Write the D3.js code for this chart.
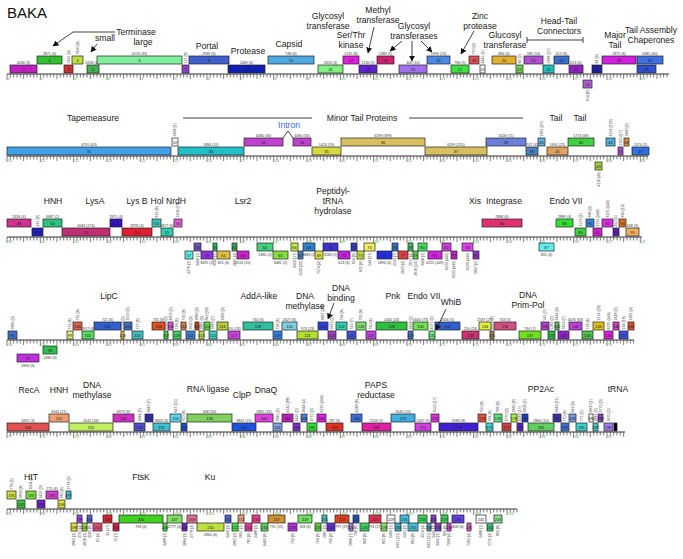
<!DOCTYPE html>
<html><head><meta charset="utf-8">
<script src="https://cdn.jsdelivr.net/npm/d3@7"></script>
<style>body{margin:0;background:#fff}svg text{font-family:"Liberation Sans",Arial,sans-serif}</style>
</head><body><svg id="c" width="683" height="559"></svg>
<script>
const title = "BAKA";
// bp length of each map row
const rowLengths = [19860, 19230, 19050, 18810, 18540, 15300];
// genes: [name, start bp (within row), end bp, track (+2/+1 forward, -1/-2 reverse), pham label]
const row1Genes = [
 ["1",90,900,1,"4246 (3)"],["2",900,1650,2,"2871 (6)"],["3",1710,1980,1,"7495 (4)"],["4",1950,2280,2,"7600 (6)"],
 ["5",2400,2760,1,"6266 (11)"],["6",2700,5250,2,"4153 (35)"],["7",5250,5460,1,"127 (8)"],["8",5460,6660,2,"2939 (6)"],
 ["9",6630,7740,1,"1469 (6)"],["10",7830,9210,2,"748 (6)"],["11",9330,10080,1,"2453 (3)"],["12",10080,10560,2,"2135 (8)"],
 ["13",10560,11100,1,"2136 (5)"],["14",11100,11610,2,"1389 (5)"],["15",11760,12600,1,"406 (10)"],["16",12600,13290,2,"1999 (13)"],
 ["17",13320,13860,1,"786 (5)"],["18",13860,14160,2,"770 (4)"],["19",14190,14340,1,"4445 (1)"],["20",14550,15270,2,"884 (6)"],
 ["21",15270,15480,1,"64 (2)"],["22",15510,16080,2,"339 (14)"],["23",16080,16410,1,"1686 (27)"],["24",16410,16860,2,"612 (6)"],
 ["25",16860,17280,1,"613 (6)"],["26",17280,17550,-1,"614 (6)"],["27",17550,17850,1,"64 (9)"],["28",17850,18870,2,"2872 (6)"],
 ["29",18900,19470,1,""],["30",18900,19680,2,"6381 (60)"]
];
const row1Colors = ["#c020c0","#30c030","#d03030","#c0e040","#40b050","#80f0a0","#9040c0","#4060d0","#1020b0","#50a8e0",
 "#80f080","#e020e0","#6020d0","#d02070","#a070f0","#4a8ae0","#40e040","#e05050","#ffffff","#e0b030",
 "#70d050","#b050d0","#20c0c0","#3a70d0","#9020c0","#b060d0","#2020a0","#d020e0","#3050d0","#4070e0"];
const row2Genes = [
 ["31",0,4920,1,"4791 (63)"],["32",4950,5130,2,"2486 (1)"],["33",5130,7110,1,"1884 (55)"],["34",7110,8280,2,"4080 (30)"],
 ["34",8580,9120,2,"4080 (30)"],["35",9150,10020,1,"1424 (59)"],["36",10020,12540,2,"6199 (399)"],["37",12540,14400,1,"6199 (255)"],
 ["38",14370,15570,2,"1628 (71)"],["39",15570,15930,1,"4747 (45)"],["40",15930,16140,2,"1661 (27)"],["41",16200,16830,1,"1692 (25)"],
 ["42",16830,17610,2,"1774 (69)"],["43",17640,17850,-1,"4116 (45)"],["44",17970,18240,2,"1914 (102)"],["45",18330,18480,1,"5250 (17)"],
 ["46",18510,18660,2,"2480 (2)"],["47",18750,19260,1,"2474 (5)"]
];
const row2Colors = ["#40a0e8","#ffffff","#20c0c8","#c040d0","#c040d0","#d8d840","#d8c060","#d8c060","#6a80d8","#4a80c0",
 "#60b0e0","#e0a060","#40d040","#a0d040","#50b0e0","#b050d0","#e09040","#3070e0"];
const row3Genes = [
 ["48",0,720,2,"2458 (4)"],["49",750,1080,1,"441 (6)"],["50",1080,1650,2,"3487 (2)"],["51",1650,3090,1,"4084 (274)"],
 ["52",3090,3450,2,"2875 (4)"],["53",3450,4350,1,"2878 (4)"],["54",4350,4620,2,"619 (6)"],["55",4620,4980,1,"2877 (6)"],
 ["56",5010,5250,2,"1904 (75)"],["57",5340,5580,-2,"4276 (2)"],["58",5610,5820,-1,"3496 (2)"],["59",5820,6180,-2,"3495 (2)"],
 ["60",6180,6300,-1,"3500 (2)"],["61",6300,6690,-2,"821 (6)"],["62",6750,6900,-1,"2661 (3)"],["63",6900,7260,-2,"2616 (10)"],
 ["64",7500,7980,-1,"2480 (2)"],["65",7980,8430,-2,"3481 (2)"],["66",8520,8730,-1,"3950 (17)"],["67",8730,8880,-2,"1530 (20)"],
 ["68",8880,9240,-1,"3883 (2)"],["69",9240,9480,-2,"7574 (4)"],["70",9480,9930,-1,"3583 (2)"],["71",9930,10290,-2,"623 (6)"],
 ["72",10320,10500,-1,"624 (6)"],["73",10500,10710,-2,"625 (6)"],["74",10710,11040,-1,"544 (27)"],["75",11100,11550,-2,"1894 (4)"],
 ["76",11550,11730,-1,"2593 (7)"],["77",11730,12030,-2,"2623 (4)"],["78",12030,12180,-1,"2617 (4)"],["79",12180,12330,-2,"2616 (10)"],
 ["80",12330,12600,-1,"3496 (2)"],["81",12630,13050,-2,"6225 (449)"],["82",13050,13320,-1,"6225 (449)"],["83",13320,13500,-2,"6225 (449)"],
 ["84",13650,13980,-1,"6220 (449)"],["85",13980,14160,-2,"2897 (5)"],["86",14250,15450,2,"2888 (6)"],["87",15960,16410,-1,"831 (4)"],
 ["88",16470,16980,2,"2889 (4)"],["89",17040,17370,1,"1573 (1)"],["90",17370,17610,2,"686 (4)"],["91",17580,17850,1,"6225 (449)"],
 ["92",17850,18180,2,"6225 (449)"],["93",18180,18360,1,"450 (5)"],["94",18360,18570,2,"639 (10)"],["95",18570,18960,1,"638 (3)"]
];
const row3Colors = ["#d03090","#2020c0","#30c080","#c03070","#3010c0","#e02030","#40c0b0","#30d0b0","#e060e0","#60e8e8",
 "#7050c0","#9030e0","#20c060","#e0c040","#40a060","#d020d0","#40d080","#80e040","#c0f040","#4080c0",
 "#3080d0","#e0e040","#4030d0","#c020e0","#3040c0","#c0e040","#f0f060","#2030e0","#3070c0","#e04040",
 "#30c060","#60d040","#40e060","#d020e0","#d040e0","#c020d0","#e040f0","#9030d0","#e03070","#60f0f0",
 "#30e030","#40d040","#3a80e0","#d020d0","#d830e0","#6020c0","#e07020","#f0b060"];
const row4Genes = [
 ["96",30,300,1,"2885 (3)"],["97",300,960,-2,"2896 (6)"],["98",1080,1500,-1,"1486 (6)"],["99",1800,1980,1,"719 (6)"],
 ["100",1980,2250,2,"735 (8)"],["101",2250,2610,1,"2917 (6)"],["102",2610,3420,2,"721 (6)"],["103",3420,3510,1,"5018 (5)"],
 ["104",3510,3750,2,"2919 (5)"],["105",3750,4080,1,"727 (6)"],["106",4350,4740,2,"735 (6)"],["107",4710,4830,1,"2890 (3)"],
 ["108",4830,4980,2,"4803 (5)"],["109",4980,5220,1,"726 (6)"],["110",5220,5370,2,"729 (6)"],["111",5370,5640,1,"2620 (3)"],
 ["112",5640,5760,2,"2880 (3)"],["113",5760,5910,1,"2881 (3)"],["114",5910,6090,2,"842 (20)"],["115",6060,6300,1,"2882 (7)"],
 ["116",6300,6630,2,"2883 (3)"],["117",6630,6990,1,"620 (26)"],["118",7080,7980,2,"734 (6)"],["119",7980,8250,1,"736 (6)"],
 ["120",8250,8700,2,"2627 (6)"],["121",8700,9330,1,"973 (23)"],["122",9330,9630,2,"3667 (46)"],["123",9630,9870,1,"5813 (20)"],
 ["124",9870,10200,2,"739 (6)"],["125",10200,10470,1,"741 (7)"],["126",10470,10770,2,"735 (6)"],["127",10770,11070,1,"740 (6)"],
 ["128",11070,12000,2,"1440 (24)"],["129",12030,12180,1,"2618 (3)"],["130",12180,12630,2,"1600 (73)"],["131",12660,12840,1,"4071 (5)"],
 ["132",12840,13590,2,"2656 (5)"],["133",13650,14160,1,"250 (24)"],["134",14160,14520,2,"2587 (27)"],["135",14490,14610,1,"3657 (5)"],
 ["136",14610,15270,2,"743 (5)"],["137",15360,16020,1,"744 (7)"],["138",16020,16260,2,"545 (7)"],["139",16230,16440,1,"5262 (2)"],
 ["140",16440,16560,2,"3444 (3)"],["141",16530,16860,1,"7453 (7)"],["142",16860,17250,2,"4076 (63)"],["143",17250,17580,1,"716 (6)"],
 ["144",17580,17910,2,"2514 (20)"],["145",17910,18180,1,"6225 (449)"],["146",18180,18360,2,"2448 (2)"],["147",18360,18630,1,"234 (16)"],
 ["148",18630,18810,2,"3281 (4)"]
];
const row4Colors = ["#4070d0","#c030e0","#30c050","#e0f080","#e06050","#50e060","#3060d0","#e0c030","#4070c0","#40c0c0",
 "#e05020","#50d040","#e050e0","#40d060","#d08040","#4080d0","#c04020","#b0e040","#50e040","#40d0c0",
 "#c0d040","#d040e0","#30c0a0","#3080e0","#80d0e0","#b0e030","#3040e0","#a040c0","#30d0b0","#4050e0",
 "#80e070","#c040e0","#30c040","#4070c0","#70e050","#60f080","#3060d0","#d03070","#e0f040","#a08050",
 "#d05080","#70e020","#b040d0","#30c040","#60c060","#9020d0","#c040e0","#50c050","#e0c020","#e020e0",
 "#d040c0","#4050e0","#e05030"];
const row5Genes = [
 ["149",0,1260,1,"3492 (3)"],["150",1260,1860,2,"6944 (21)"],["151",1860,3180,1,"3541 (34)"],["152",3180,3810,2,"6973 (6)"],
 ["153",3810,4140,1,"2644 (5)"],["154",4140,4380,2,"3842 (7)"],["155",4380,4890,1,"3843 (4)"],["156",4890,5220,2,"647 (15)"],
 ["157",5220,5400,1,"750 (6)"],["158",5400,6750,2,"348 (34)"],["159",6750,7470,1,"3842 (21)"],["160",7440,7980,2,"2865 (16)"],
 ["161",7980,8250,1,"2645 (5)"],["162",8250,8580,2,"4145 (86)"],["163",8580,8790,1,"3495 (2)"],["164",8820,9000,2,"3844 (4)"],
 ["165",9000,9300,1,"3772 (3)"],["166",9300,9570,2,"6225 (449)"],["167",9570,10080,1,"787 (6)"],["168",10320,10650,2,"4248 (6)"],
 ["169",10650,11520,1,"1556 (5)"],["170",11520,12240,2,"2040 (20)"],["171",12240,12720,1,"2047 (5)"],["172",12720,12960,2,"3552 (17)"],
 ["173",12960,14130,1,"3583 (8)"],["174",14130,14370,2,"750 (6)"],["175",14370,14580,1,"764 (6)"],["176",14610,14850,2,"766 (6)"],
 ["177",14850,15120,1,"3770 (3)"],["178",15120,15300,2,"2665 (6)"],["179",15300,15480,1,"3583 (17)"],["180",15450,15630,2,"2856 (5)"],
 ["181",15630,16410,1,"2866 (10)"],["182",16380,16620,2,"3643 (11)"],["183",16620,16860,1,"770 (6)"],["184",16860,17070,2,"643 (4)"],
 ["185",17070,17400,1,"771 (5)"],["186",17460,17580,2,"6600 (1)"],["187",17580,17730,1,"2867 (5)"],["188",17730,17880,2,"3772 (3)"],
 ["189",17910,18180,1,"3470 (2)"],["",18210,18300,1,""]
];
const row5Colors = ["#e05050","#f0a070","#c0f060","#d030c0","#5050d0","#3030b0","#40c0d0","#60d8f0","#2050c0","#80d060",
 "#2050e0","#e040e0","#80a0e0","#c020c0","#8030d0","#5080d0","#30e030","#e020e0","#e03020","#4070e0",
 "#e020a0","#40b0e0","#d040e0","#e030e0","#4020d0","#e05040","#40d0d0","#60e080","#d04040","#b0f040",
 "#6020c0","#2040c0","#60d060","#4030b0","#4070e0","#70a0e0","#40d0d0","#ffffff","#40d0c0","#9040c0",
 "#a080f0","#000000"];
const row6Genes = [
 ["191",0,270,2,"776 (5)"],["192",300,540,1,"2858 (6)"],["193",570,870,2,"3004 (11)"],["194",900,1140,1,"3437 (3)"],
 ["195",1170,1530,2,"775 (6)"],["196",1530,1740,1,"780 (6)"],["197",1770,1920,2,"3776 (5)"],["198",1920,2100,-2,"3862 (3)"],
 ["199",2100,2250,-1,"3791 (4)"],["200",2250,2400,-2,"4818 (3)"],["201",2400,2550,-1,"3583 (6)"],["202",2580,2850,-2,"61 (4)"],
 ["203",2880,3150,-1,"35 (17)"],["204",3180,3360,-2,"12 (7)"],["205",3360,4680,-1,"794 (6)"],["206",4680,4800,-2,"3488 (2)"],
 ["207",4800,5250,-1,"2777 (4)"],["208",5250,5400,-2,"3864 (3)"],["209",5400,5700,-1,"2778 (3)"],["210",5700,6510,-2,"2860 (6)"],
 ["211",6540,6720,-1,"3490 (3)"],["212",6750,6930,-2,"2862 (3)"],["213",6930,7110,-1,"2857 (2)"],["214",7140,7350,-2,"781 (6)"],
 ["215",7350,7590,-1,"2488 (3)"],["216",7620,7830,-2,"6460 (6)"],["217",7830,8340,-1,"791 (15)"],["218",8430,8700,-2,"792 (6)"],
 ["219",8730,9150,-1,"183 (6)"],["220",9240,9420,-2,"794 (6)"],["221",9450,9600,-1,"2867 (3)"],["222",9600,9840,-2,"795 (6)"],
 ["223",9840,10260,-1,"797 (29)"],["224",10260,10380,-2,"2866 (7)"],["225",10380,10560,-1,"798 (6)"],["226",10590,10860,-2,"800 (6)"],
 ["227",10860,11220,-1,"793 (27)"],["228",11220,11400,-2,"801 (6)"],["229",11400,11640,-1,"2480 (1)"],["230",11640,11820,-2,"6451 (11)"],
 ["231",11790,12060,-1,"2491 (3)"],["232",12030,12330,-2,"803 (6)"],["233",12330,12600,-1,"3574 (4)"],["234",12600,12720,-2,"6451 (11)"],
 ["235",12720,12870,-1,"3495 (2)"],["236",12840,13020,-2,"3492 (2)"],["237",13020,13230,-1,"809 (6)"],["238",13200,13320,-2,"7066 (4)"],
 ["239",13350,13710,-1,"808 (6)"],["240",13800,13920,-2,"7265 (4)"],["241",14070,14370,-1,"2488 (1)"],["242",14400,14580,-2,"2715 (3)"],
 ["243",14610,14850,-1,"809 (6)"]
];
const row6Colors = ["#d0e040","#40c040","#80e040","#7020d0","#d040d0","#e0e040","#40c0c0","#e0e040","#a040e0","#a0d040",
 "#6060d0","#e05070","#e02030","#d02040","#40d020","#40e040","#80e060","#7020d0","#e07090","#c0e040",
 "#5060d0","#40e040","#f0a080","#e040a0","#e04090","#60d060","#d09030","#b030e0","#70e060","#60d040",
 "#40c0c0","#6030d0","#e04020","#a080e0","#2050c0","#40d060","#e03050","#90e060","#ffffff","#40b0c0",
 "#40c0e0","#40c0d0","#40d060","#50a0c0","#8040c0","#8040c0","#40d060","#e040e0","#6040e0","#d060d0",
 "#ffffff","#40c070","#90e090"];
// annotations: [row, center bp, lines]
const annotations = [
 [0,3870,["Terminase"]],[0,2940,["small"]],[0,4080,["large"]],[0,6000,["Portal"]],[0,7230,["Protease"]],[0,8460,["Capsid"]],
 [0,9630,["Glycosyl","transferase"]],[0,10320,["Ser/Thr","kinase"]],[0,11130,["Methyl","transferase"]],
 [0,12210,["Glycosyl","transferases"]],[0,14190,["Zinc","protease"]],[0,14940,["Glucosyl","transferase"]],
 [0,16560,["Head-Tail","Connectors"]],[0,18240,["Major","Tail"]],[0,19320,["Tail Assembly","Chaperones"]],
 [1,2580,["Tapemeasure"]],[1,10650,["Minor Tail Proteins"]],[1,8460,["Intron"]],[1,16470,["Tail"]],[1,17190,["Tail"]],
 [2,1380,["HNH"]],[2,2640,["LysA"]],[2,3900,["Lys B"]],[2,4500,["Hol"]],[2,5070,["NrdH"]],[2,7080,["Lsr2"]],
 [2,9780,["Peptidyl-","tRNA","hydrolase"]],[2,14040,["Xis"]],[2,14910,["Integrase"]],[2,16770,["Endo VII"]],
 [3,3060,["LipC"]],[3,7560,["AddA-like"]],[3,8940,["DNA","methylase"]],[3,10020,["DNA","binding"]],[3,11580,["Pnk"]],
 [3,12510,["Endo VII"]],[3,13320,["WhiB"]],[3,15630,["DNA","Prim-Pol"]],
 [4,660,["RecA"]],[4,1560,["HNH"]],[4,2550,["DNA","methylase"]],[4,6030,["RNA ligase"]],[4,7050,["ClpP"]],[4,7770,["DnaQ"]],
 [4,11070,["PAPS","reductase"]],[4,16020,["PP2Ac"]],[4,18330,["tRNA"]],
 [5,720,["HIT"]],[5,4020,["FtsK"]],[5,6090,["Ku"]]
];
// ---------------- layout ----------------
const rulerY = [74,156,237,340,432,509];
const annDy = [-39,-33,-29,-25,-20,-27,-55,-36,-61,-45,-55,-36,-50,-36,-41,
 -35,-35,-28,-35,-35,
 -33,-33,-33,-33,-33,-33,-43,-33,-33,-33,
 -41,-41,-41,-49,-41,-41,-35,-42,
 -39,-39,-44,-40,-34,-39,-44,-40,-40,
 -29,-29,-29];
// connector lines: [row, bp1, dy1, bp2, dy2, arrow]
const connectors = [
 [0,3240,-42,1980,-42,0],[0,1980,-42,1380,-28,1],[0,2700,-30,2520,-22,1],[0,11010,-47,10830,-21,1],
 [0,11850,-33,11490,-23,1],[0,12150,-33,12150,-13,1],[0,12420,-33,12750,-22,1],[0,14010,-43,13620,-20,1],
 [0,15600,-34,17280,-34,0],[0,15600,-37,15600,-31,0],[0,17280,-37,17280,-31,0],
 [1,5280,-38,9150,-38,0],[1,12060,-38,15480,-38,0],[1,8280,-18,8430,-25,0],[1,8430,-25,8580,-18,0],
 [3,9810,-37,9630,-21,1],[3,13170,-31,12870,-10,1]
];
const svg = d3.select("#c");
const x = d3.scaleLinear().domain([0, 19860]).range([7, 669]);
const BOX_H = 8;
const trackTop = {"2":-18,"1":-9,"-1":6,"-2":14};
const rows = [[row1Genes,row1Colors],[row2Genes,row2Colors],[row3Genes,row3Colors],[row4Genes,row4Colors],[row5Genes,row5Colors],[row6Genes,row6Colors]];
const rowStart = rowLengths.map((d,i)=>d3.sum(rowLengths.slice(0,i)));

svg.append("defs").append("marker").attr("id","arr").attr("viewBox","0 0 10 10")
 .attr("refX",9).attr("refY",5).attr("markerWidth",6).attr("markerHeight",6)
 .attr("markerUnits","userSpaceOnUse").attr("orient","auto")
 .append("path").attr("d","M0,0L10,5L0,10z").attr("fill","#111");

svg.append("text").attr("x",7).attr("y",18).attr("font-size",15).attr("fill","#111").text(title);

rows.forEach(([genes, colors], ri) => {
  const R = rulerY[ri];
  const g = svg.append("g");
  const len = rowLengths[ri];
  // ruler
  g.append("line").attr("x1",x(0)).attr("x2",x(len)).attr("y1",R).attr("y2",R).attr("stroke","#333").attr("stroke-width",1);
  const ticks = d3.range(0, len+1, 100);
  g.selectAll("line.t").data(ticks).join("line").attr("class","t")
   .attr("x1",d=>x(d)).attr("x2",d=>x(d)).attr("y1",R)
   .attr("y2",d=>R+(d%1000===0?6:d%500===0?5:3.5))
   .attr("stroke","#444").attr("stroke-width",0.7);
  g.selectAll("text.k").data(ticks.filter(d=>d%1000===0)).join("text").attr("class","k")
   .attr("x",d=>x(d)+1).attr("y",R+5.5).attr("font-size",3.6).attr("fill","#4a4")
   .text(d=>Math.round((rowStart[ri]+d)/1000));
  const data = genes.map((d,i)=>({name:d[0],s:d[1],e:d[2],t:d[3],lab:d[4],c:colors[i]}));
  // pham labels
  data.filter(d=>d.lab).forEach(d=>{
    const x0=x(d.s), x1=x(d.e), w=x1-x0, cx=(x0+x1)/2;
    const top=R+trackTop[String(d.t)], bot=top+BOX_H;
    const fwd=d.t>0;
    const t=g.append("text").attr("font-size",3.6).attr("fill","#333").text(d.lab);
    if (w>=11.5) {
      t.attr("x",cx).attr("y",fwd?top-1.5:bot+4.5).attr("text-anchor","middle");
    } else {
      t.attr("transform",`translate(${cx+1.3},${fwd?top-1.5:bot+1.5}) rotate(-90)`)
       .attr("text-anchor",fwd?"start":"end");
    }
  });
  // boxes
  g.selectAll("rect.g").data(data).join("rect").attr("class","g")
   .attr("x",d=>x(d.s)).attr("width",d=>x(d.e)-x(d.s))
   .attr("y",d=>R+trackTop[String(d.t)]).attr("height",BOX_H)
   .attr("fill",d=>d.c).attr("stroke","#222").attr("stroke-width",0.7);
  g.selectAll("text.n").data(data.filter(d=>d.name)).join("text").attr("class","n")
   .attr("x",d=>(x(d.s)+x(d.e))/2).attr("y",d=>R+trackTop[String(d.t)]+5.6)
   .attr("text-anchor","middle").attr("font-size",4).attr("fill","#222").text(d=>d.name);
});

annotations.forEach((a,i)=>{
  const [ri,bp,lines]=a;
  const t=svg.append("text").attr("x",x(bp)).attr("y",rulerY[ri]+annDy[i])
   .attr("text-anchor","middle").attr("font-size",8.6)
   .attr("fill",lines[0]==="Intron"?"#3a66d8":"#1a1a1a");
  lines.forEach((l,j)=>t.append("tspan").attr("x",x(bp)).attr("dy",j?10:0).text(l));
});
connectors.forEach(c=>{
  const [ri,b1,d1,b2,d2,ar]=c;
  const l=svg.append("line").attr("x1",x(b1)).attr("y1",rulerY[ri]+d1).attr("x2",x(b2)).attr("y2",rulerY[ri]+d2)
   .attr("stroke","#111").attr("stroke-width",0.8);
  if(ar) l.attr("marker-end","url(#arr)");
});
</script></body></html>
